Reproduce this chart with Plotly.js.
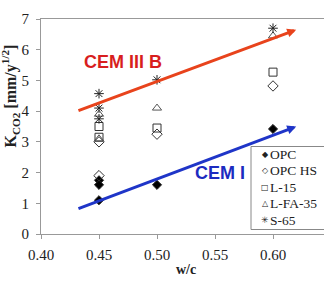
<!DOCTYPE html>
<html><head><meta charset="utf-8">
<script src="https://cdn.plot.ly/plotly-3.0.1.min.js"></script>
<style>html,body{margin:0;padding:0;overflow:hidden;background:#fff}#chart{width:340px;height:281px}</style>
</head><body><div id="chart"></div>
<script>
// data
const seriesNames = ["OPC", "OPC HS", "L-15", "L-FA-35", "S-65"];
const legendGlyphs = ["\u25C6", "\u25C7", "\u25A1", "\u25B3", "\u2733"];
const opcX = [0.45, 0.45, 0.45, 0.50, 0.60];
const opcY = [1.75, 1.6, 1.1, 1.6, 3.42];
const opcHsX = [0.45, 0.45, 0.50, 0.60];
const opcHsY = [3.0, 1.9, 3.25, 4.82];
const l15X = [0.45, 0.45, 0.50, 0.60];
const l15Y = [3.5, 3.15, 3.45, 5.27];
const lfaX = [0.45, 0.45, 0.50, 0.60];
const lfaY = [3.9, 3.1, 4.1, 6.45];
const s65X = [0.45, 0.45, 0.45, 0.50, 0.60];
const s65Y = [4.57, 4.1, 3.75, 5.02, 6.7];
const xTicks = [0.40, 0.45, 0.50, 0.55, 0.60, 0.65];
const yTicks = [0, 1, 2, 3, 4, 5, 6, 7];
// trend arrows [x0, y0, x1, y1]
const cem3Arrow = [0.431, 4.0, 0.62, 6.65];
const cem1Arrow = [0.431, 0.81, 0.62, 3.5];

const mk = (sym, size, col) => ({symbol: sym, size: size, color: col, line: {color: '#222', width: 1}});
const traces = [
  {x: opcX, y: opcY, name: seriesNames[0], mode: 'markers', type: 'scatter', marker: mk('diamond', 7, '#000')},
  {x: opcHsX, y: opcHsY, name: seriesNames[1], mode: 'markers', type: 'scatter', marker: mk('diamond-open', 8, '#333')},
  {x: l15X, y: l15Y, name: seriesNames[2], mode: 'markers', type: 'scatter', marker: mk('square-open', 8, '#333')},
  {x: lfaX, y: lfaY, name: seriesNames[3], mode: 'markers', type: 'scatter', marker: mk('triangle-up-open', 8, '#555')},
  {x: s65X, y: s65Y, name: seriesNames[4], mode: 'markers', type: 'scatter', marker: mk('asterisk-open', 8, '#222')}
];

const serif = "'Liberation Serif', 'Times New Roman', serif";
const sans = "'Liberation Sans', Arial, sans-serif";
const L = 41, PW = 290, B0 = 234, PH = 215;
const px = v => (v - L) / PW, py = v => (B0 - v) / PH;
const arrow = (a, col) => ({x: a[2], y: a[3], ax: a[0], ay: a[1], xref: 'x', yref: 'y', axref: 'x', ayref: 'y',
  showarrow: true, arrowhead: 2, arrowsize: 0.6, arrowwidth: 3, arrowcolor: col, text: ''});

const annotations = [
  arrow(cem3Arrow, '#e8431c'),
  arrow(cem1Arrow, '#1f35c8'),
  {x: 0.471, y: 5.6, xref: 'x', yref: 'y', text: '<b>CEM III B</b>', showarrow: false,
    font: {family: sans, size: 18, color: '#d81e1e'}},
  {x: 0.554, y: 1.99, xref: 'x', yref: 'y', text: '<b>CEM I</b>', showarrow: false,
    font: {family: sans, size: 18, color: '#1c2bc0'}},
  {x: px(10), y: py(150), xref: 'paper', yref: 'paper', xanchor: 'center', yanchor: 'bottom',
    text: '<b>K<sub>CO2</sub> [mm/y<sup>1/2</sup>]</b>',
    showarrow: false, textangle: -90, font: {family: serif, size: 16, color: '#222'}}
];
const legendRows = [154, 170.5, 187, 203.5, 220];
seriesNames.forEach((n, i) => {
  annotations.push({x: px(265), y: py(legendRows[i]), xref: 'paper', yref: 'paper', xanchor: 'center', yanchor: 'middle',
    text: legendGlyphs[i], showarrow: false, font: {family: 'DejaVu Sans', size: i === 4 ? 9 : 8, color: '#222'}});
  annotations.push({x: px(268), y: py(legendRows[i]), xref: 'paper', yref: 'paper', xanchor: 'left', yanchor: 'middle',
    text: n, showarrow: false, font: {family: serif, size: 13.5, color: '#222'}});
});

const layout = {
  width: 340, height: 281,
  margin: {l: L, r: 340 - L - PW, t: 19, b: 281 - 19 - PH},
  paper_bgcolor: '#fff', plot_bgcolor: '#fff',
  showlegend: false,
  xaxis: {range: [0.40, 0.65], tickvals: xTicks, ticktext: xTicks.map(v => v.toFixed(2)),
    showgrid: false, zeroline: false, showline: true, linecolor: '#999', linewidth: 1, mirror: true,
    ticks: 'outside', ticklen: 4, tickcolor: '#999', ticklabelstandoff: 3,
    tickfont: {family: serif, size: 15, color: '#222'},
    title: {text: '<b>w/c</b>', font: {family: serif, size: 14, color: '#222'}, standoff: 2}},
  yaxis: {range: [0, 7], tickvals: yTicks, showgrid: false, zeroline: false, showline: true, linecolor: '#999',
    linewidth: 1, mirror: true, ticks: 'outside', ticklen: 4, tickcolor: '#999', ticklabelstandoff: 4,
    tickfont: {family: serif, size: 15, color: '#222'}},
  shapes: [{type: 'rect', xref: 'paper', yref: 'paper', x0: px(251), x1: px(345), y0: py(229.5), y1: py(146.5),
    fillcolor: '#fff', line: {color: '#888', width: 1}, layer: 'above'}],
  annotations: annotations
};
Plotly.newPlot('chart', traces, layout, {displayModeBar: false, staticPlot: true});
</script></body></html>
